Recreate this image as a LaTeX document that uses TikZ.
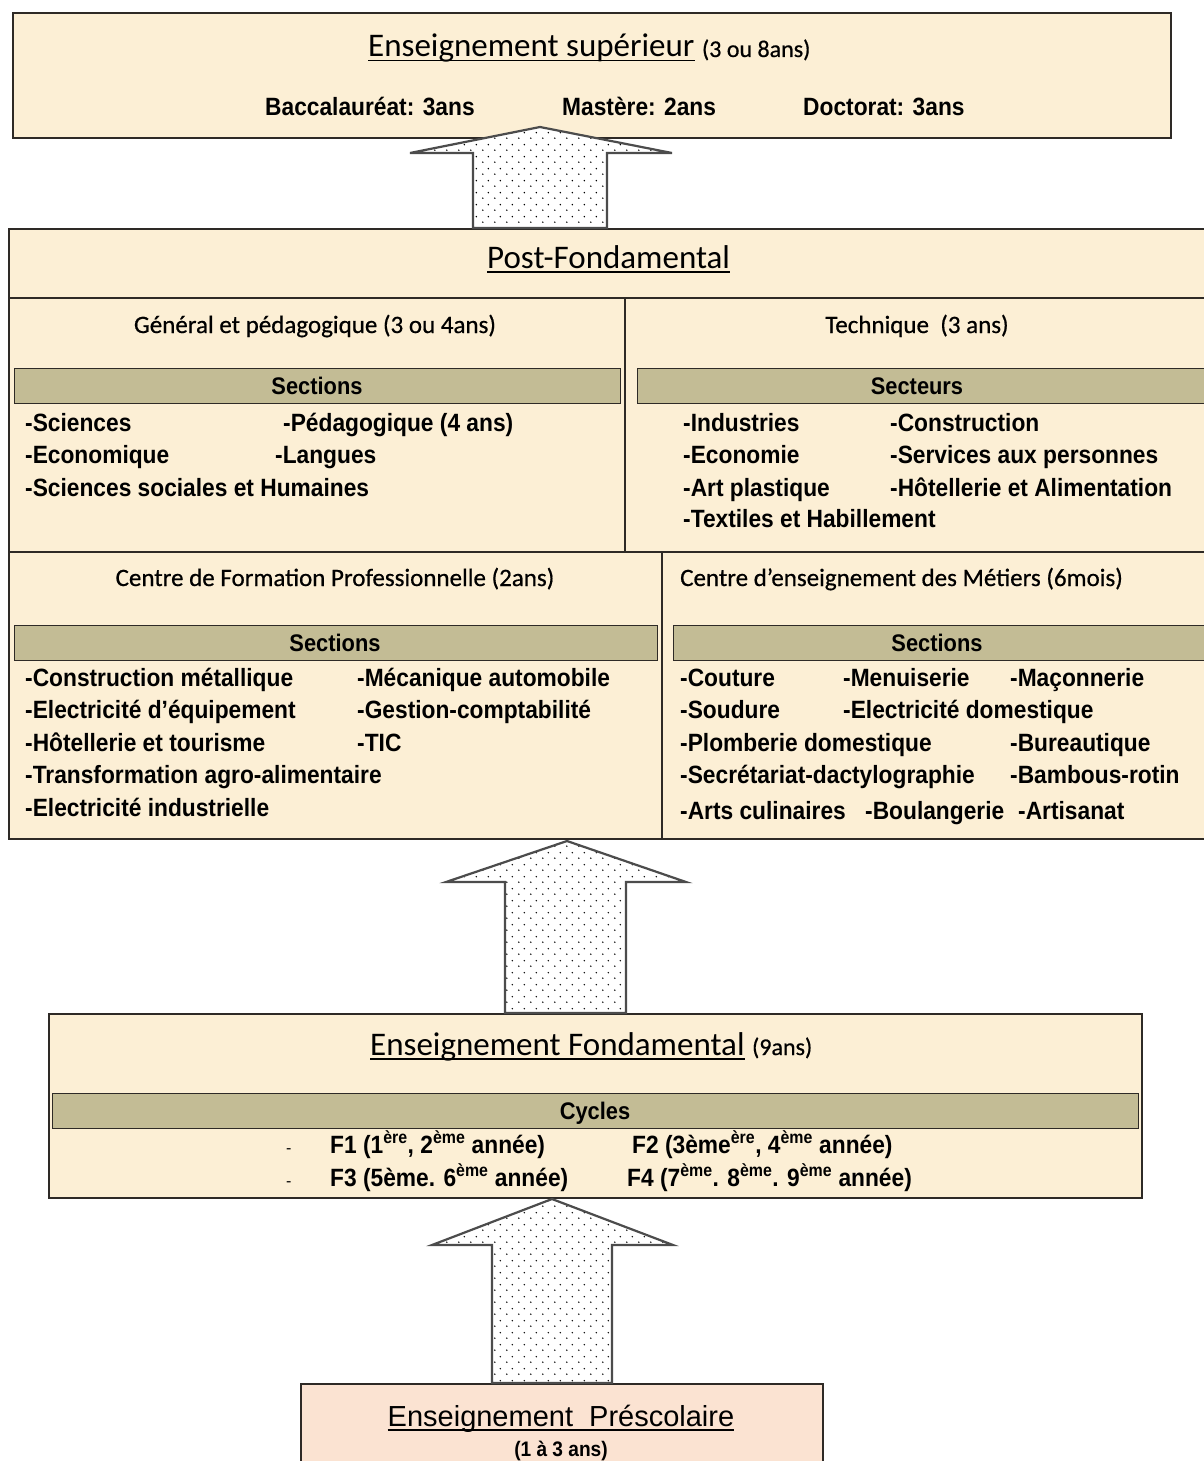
\documentclass[tikz,border=0pt]{standalone}
\usepackage{fontspec}
\setmainfont{Carlito}
\newfontfamily\arialf{Liberation Sans}
\newfontfamily\narrowf[FakeStretch=0.91]{Liberation Sans}
\newfontfamily\semicarl[FakeBold=0.6]{Carlito}
\usetikzlibrary{patterns.meta}
\definecolor{parch}{HTML}{FCEFD5}
\definecolor{peach}{HTML}{FBE3D2}
\definecolor{khaki}{HTML}{C3BC95}
\definecolor{edgec}{HTML}{2E2A26}
\tikzdeclarepattern{
  name=sparsedots,
  type=uncolored,
  bottom left={(0pt,0pt)},
  top right={(12pt,12pt)},
  tile size={(12pt,12pt)},
  code={\fill (3pt,3pt) circle (0.85pt); \fill (9pt,9pt) circle (0.85pt);}
}
\newcommand\myul[1]{\setbox0\hbox{#1}\rlap{\raisebox{-4.5pt}{\rule{\wd0}{1.6pt}}}\box0}
\tikzset{
  box/.style={draw=edgec, line width=1.6pt, fill=parch, inner sep=0pt, anchor=north west},
  bar/.style={draw=edgec, line width=1.4pt, fill=khaki, inner sep=0pt, anchor=north west},
  barlabel/.style={inner sep=0pt, anchor=base, font=\narrowf\bfseries\fontsize{24}{26}\selectfont},
  item/.style={anchor=base west, inner sep=0pt, font=\narrowf\bfseries\fontsize{25}{28}\selectfont},
  head/.style={inner sep=0pt, anchor=base west, font=\fontsize{33}{38}\selectfont},
  sub/.style={inner sep=0pt, anchor=base, font=\semicarl\fontsize{25}{30}\selectfont},
  divider/.style={draw=edgec, line width=1.6pt},
  bigarrow/.style={draw=black!70, line width=2.2pt, preaction={fill=white}, pattern={sparsedots}, pattern color=black, line join=miter},
}
\begin{document}
\begin{tikzpicture}[x=1pt,y=-1pt]
\useasboundingbox[fill=white] (0,0) rectangle (1203,1461);

% ---------- Enseignement supérieur ----------
\node[box, minimum width=1158pt, minimum height=125pt] (sup) at (12,12) {};
\node[head] (suptitle) at (368,57) {\myul{Enseignement supérieur}\ {\semicarl\fontsize{24}{28}\selectfont (3 ou 8ans)}};
\node[item] (bac) at (265,116) {Baccalauréat: 3ans};
\node[item] (mas) at (562,116) {Mastère: 2ans};
\node[item] (doc) at (803,116) {Doctorat: 3ans};

% ---------- Post-Fondamental ----------
\node[box, minimum width=1215pt, minimum height=610pt] (post) at (8,228) {};
\node[head] (posttitle) at (487,268) {\myul{Post-Fondamental}};
\coordinate (h1l) at (8,298);   \coordinate (h1r) at (1225,298);
\coordinate (v1t) at (625,298); \coordinate (v1b) at (625,552);
\coordinate (h2l) at (8,552);   \coordinate (h2r) at (1225,552);
\coordinate (v2t) at (662,552); \coordinate (v2b) at (662,838);
\draw[divider] (h1l) -- (h1r);
\draw[divider] (v1t) -- (v1b);
\draw[divider] (h2l) -- (h2r);
\draw[divider] (v2t) -- (v2b);

% upper left
\node[sub] (gen) at (315,333) {Général et pédagogique (3 ou 4ans)};
\node[bar, minimum width=606pt, minimum height=35pt] (bar1) at (14,368) {};
\node[barlabel] (bar1t) at (317,394) {Sections};
\node[item] at (25,431) {-Sciences};
\node[item] at (283,431) {-Pédagogique (4 ans)};
\node[item] at (25,463) {-Economique};
\node[item] at (275,463) {-Langues};
\node[item] at (25,496) {-Sciences sociales et Humaines};

% upper right
\node[sub] (tech) at (917,333) {Technique\ \ (3 ans)};
\node[bar, minimum width=590pt, minimum height=35pt] (bar2) at (637,368) {};
\node[barlabel] (bar2t) at (917,394) {Secteurs};
\node[item] at (683,431) {-Industries};
\node[item] at (890,431) {-Construction};
\node[item] at (683,463) {-Economie};
\node[item] at (890,463) {-Services aux personnes};
\node[item] at (683,496) {-Art plastique};
\node[item] at (890,496) {-Hôtellerie et Alimentation};
\node[item] at (683,527) {-Textiles et Habillement};

% lower left
\node[sub] (cfp) at (335,586) {Centre de Formation Professionnelle (2ans)};
\node[bar, minimum width=643pt, minimum height=35pt] (bar3) at (14,625) {};
\node[barlabel] (bar3t) at (335,651) {Sections};
\node[item] at (25,686) {-Construction métallique};
\node[item] at (357,686) {-Mécanique automobile};
\node[item] at (25,718) {-Electricité d’équipement};
\node[item] at (357,718) {-Gestion-comptabilité};
\node[item] at (25,751) {-Hôtellerie et tourisme};
\node[item] at (357,751) {-TIC};
\node[item] at (25,783) {-Transformation agro-alimentaire};
\node[item] at (25,816) {-Electricité industrielle};

% lower right
\node[sub, anchor=base west] (cem) at (680,586) {Centre d’enseignement des Métiers (6mois)};
\node[bar, minimum width=560pt, minimum height=35pt] (bar4) at (673,625) {};
\node[barlabel] (bar4t) at (937,651) {Sections};
\node[item] at (680,686) {-Couture};
\node[item] at (843,686) {-Menuiserie};
\node[item] at (1010,686) {-Maçonnerie};
\node[item] at (680,718) {-Soudure};
\node[item] at (843,718) {-Electricité domestique};
\node[item] at (680,751) {-Plomberie domestique};
\node[item] at (1010,751) {-Bureautique};
\node[item] at (680,783) {-Secrétariat-dactylographie};
\node[item] at (1010,783) {-Bambous-rotin};
\node[item] at (680,819) {-Arts culinaires};
\node[item] at (865,819) {-Boulangerie};
\node[item] at (1018,819) {-Artisanat};

% ---------- Enseignement Fondamental ----------
\node[box, minimum width=1093pt, minimum height=184pt] (fond) at (48,1013) {};
\node[head] (fondtitle) at (370,1055) {\myul{Enseignement Fondamental}\ {\semicarl\fontsize{24}{28}\selectfont (9ans)}};
\node[bar, minimum width=1086pt, minimum height=35pt] (bar5) at (52,1093) {};
\node[barlabel] (bar5t) at (595,1119) {Cycles};
\node[item, font=\arialf\fontsize{16}{18}\selectfont] at (286,1153) {-};
\node[item] at (330,1153) {F1 (1\textsuperscript{ère}, 2\textsuperscript{ème} année)};
\node[item] at (632,1153) {F2 (3ème\textsuperscript{ère}, 4\textsuperscript{ème} année)};
\node[item, font=\arialf\fontsize{16}{18}\selectfont] at (286,1186) {-};
\node[item] at (330,1186) {F3 (5ème. 6\textsuperscript{ème} année)};
\node[item] at (627,1186) {F4 (7\textsuperscript{ème}. 8\textsuperscript{ème}. 9\textsuperscript{ème} année)};

% ---------- Enseignement Préscolaire ----------
\node[box, fill=peach, minimum width=522pt, minimum height=100pt] (pre) at (300,1383) {};
\node[inner sep=0pt, anchor=base, font=\arialf\fontsize{29}{32}\selectfont] (pretitle) at (561,1426) {\myul{Enseignement\ \ Préscolaire}};
\node[inner sep=0pt, anchor=base, font=\narrowf\bfseries\fontsize{21}{23}\selectfont] (preage) at (561,1456) {(1 à 3 ans)};

% ---------- block arrows ----------
\draw[bigarrow] (540,127) -- (672,153) -- (607,153) -- (607,228) -- (473,228) -- (473,153) -- (410,153) -- cycle;
\draw[bigarrow] (567,841) -- (686,882) -- (626,882) -- (626,1013) -- (505,1013) -- (505,882) -- (446,882) -- cycle;
\draw[bigarrow] (552,1199) -- (673,1245) -- (612,1245) -- (612,1383) -- (492,1383) -- (492,1245) -- (432,1245) -- cycle;
\end{tikzpicture}
\end{document}
